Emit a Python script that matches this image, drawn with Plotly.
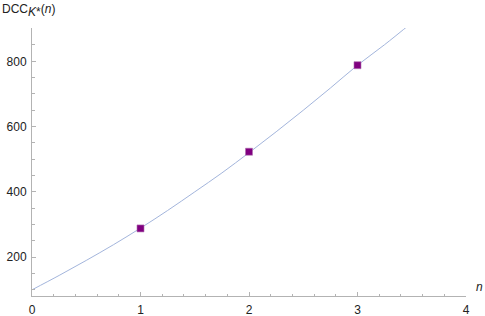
import plotly.graph_objects as go

# data points
n_pts = [1, 2, 3]
dcc_pts = [288, 523, 788]

# fitted curve samples
n_curve = [0, 0.25, 0.5, 0.75, 1, 1.25, 1.5, 1.75, 2, 2.25, 2.5, 2.75, 3, 3.25, 3.5]
dcc_curve = [100, 144, 190, 238, 289, 343, 400, 458, 520, 584, 650, 718, 788, 851, 918]

x_ticks = [0, 1, 2, 3, 4]
y_ticks = [200, 400, 600, 800]

axis_col = "#b3b3b3"
font_fam = "Liberation Sans, Arial, sans-serif"

fig = go.Figure()
fig.add_trace(go.Scatter(x=n_curve, y=dcc_curve, mode="lines", line=dict(color="#a3b5dc", width=1, shape="spline"),
                         hoverinfo="skip", showlegend=False))
fig.add_trace(go.Scatter(x=n_pts, y=dcc_pts, mode="markers",
                         marker=dict(symbol="square", size=7, color="#800080", line=dict(color="#b070b0", width=0.6)),
                         showlegend=False))

fig.update_layout(
    width=485, height=316,
    margin=dict(l=32, r=19, t=28, b=20, autoexpand=False),
    plot_bgcolor="white", paper_bgcolor="white",
    font=dict(family=font_fam, size=12, color="#222222"),
    xaxis=dict(range=[0, 4], tickvals=x_ticks, showgrid=False, zeroline=False, automargin=False,
               showline=True, linecolor=axis_col, linewidth=1,
               ticks="inside", ticklen=4, tickcolor=axis_col, tickwidth=1,
               minor=dict(dtick=0.2, tick0=0, ticks="inside", ticklen=2.5, tickcolor=axis_col),
               ticklabelstandoff=3, tickfont=dict(size=12, color="#222222")),
    yaxis=dict(range=[81, 902], tickvals=y_ticks, showgrid=False, zeroline=False, automargin=False,
               showline=True, linecolor=axis_col, linewidth=1,
               ticks="inside", ticklen=4, tickcolor=axis_col, tickwidth=1,
               minor=dict(dtick=50, tick0=0, ticks="inside", ticklen=2.5, tickcolor=axis_col),
               ticklabelstandoff=2, tickfont=dict(size=12, color="#222222")),
    annotations=[
        dict(text="DCC<sub><span style='font-size:12px'><i>K</i>*</span></sub>(<i>n</i>)", xref="paper", yref="paper",
             x=-32/434, y=1 + 28/268, xanchor="left", yanchor="top", showarrow=False,
             font=dict(size=12, color="#222222")),
        dict(text="<i>n</i>", xref="paper", yref="paper", x=1 + 8/434, y=0.0,
             xanchor="left", yanchor="bottom", showarrow=False, font=dict(size=12, color="#222222")),
    ],
)

fig.write_html("out.html", config={"displayModeBar": False},
               post_script="document.body.style.margin='0';")
